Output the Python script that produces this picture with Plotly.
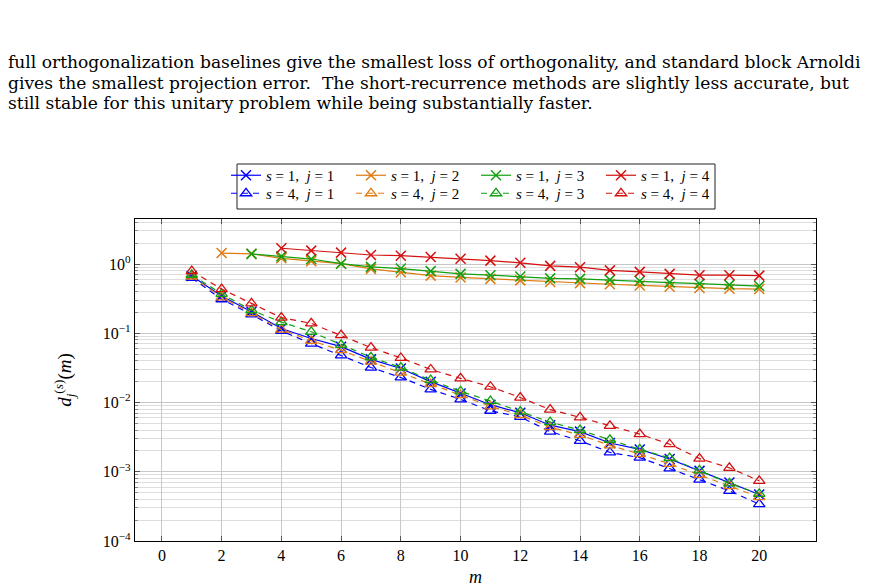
import plotly.graph_objects as go

m_all = list(range(1, 21))

# s = 1 series
s1_j1 = [0.67, 0.345, 0.205, 0.117, 0.084, 0.064, 0.042, 0.031, 0.020, 0.0135,
         0.0093, 0.0071, 0.0047, 0.0038, 0.0026, 0.0021, 0.00153, 0.00103, 0.00070, 0.00047]
m_j2 = list(range(2, 21))
s1_j2 = [1.44, 1.40, 1.21, 1.10, 1.01, 0.85, 0.76, 0.68, 0.64, 0.61,
         0.58, 0.55, 0.53, 0.51, 0.49, 0.47, 0.45, 0.44, 0.435]
m_j3 = list(range(3, 21))
s1_j3 = [1.40, 1.29, 1.18, 1.01, 0.91, 0.86, 0.79, 0.72, 0.69, 0.66,
         0.62, 0.61, 0.59, 0.57, 0.54, 0.52, 0.50, 0.48]
m_j4 = list(range(4, 21))
s1_j4 = [1.69, 1.56, 1.46, 1.35, 1.32, 1.26, 1.19, 1.12, 1.04, 0.94,
         0.90, 0.81, 0.77, 0.72, 0.69, 0.69, 0.68]

# s = 4 series
s4_j1 = [0.63, 0.31, 0.187, 0.108, 0.071, 0.048, 0.032, 0.023, 0.0155, 0.0111,
         0.0076, 0.0062, 0.0038, 0.0028, 0.0019, 0.0016, 0.00112, 0.00077, 0.00053, 0.00034]
s4_j2 = [0.66, 0.33, 0.195, 0.113, 0.078, 0.057, 0.039, 0.027, 0.0185, 0.0128,
         0.0088, 0.0066, 0.0044, 0.0034, 0.0024, 0.0018, 0.0013, 0.0009, 0.00062, 0.00043]
s4_j3 = [0.70, 0.37, 0.215, 0.145, 0.105, 0.068, 0.045, 0.032, 0.021, 0.0145,
         0.0105, 0.0074, 0.0052, 0.0040, 0.0029, 0.0021, 0.00158, 0.00105, 0.00068, 0.00048]
s4_j4 = [0.79, 0.435, 0.27, 0.168, 0.139, 0.094, 0.062, 0.044, 0.030, 0.0223,
         0.0169, 0.0118, 0.0079, 0.0061, 0.0046, 0.0035, 0.0025, 0.00155, 0.00114, 0.00074]

x_ticks = list(range(0, 21, 2))
y_tick_vals = [1e-4, 1e-3, 1e-2, 1e-1, 1e0]
y_tick_text = ["10<sup>\u22124</sup>", "10<sup>\u22123</sup>", "10<sup>\u22122</sup>",
               "10<sup>\u22121</sup>", "10<sup>0</sup>"]

paragraph = [
    "full orthogonalization baselines give the smallest loss of orthogonality, and standard block Arnoldi",
    "gives the smallest projection error.  The short-recurrence methods are slightly less accurate, but",
    "still stable for this unitary problem while being substantially faster.",
]

BLUE = "#0000ff"
ORANGE = "#e07a10"
GREEN = "#10a010"
RED = "#d41010"

FONT = "Liberation Serif"

fig = go.Figure()

def lab(s, j):
    return f"<i>s</i> = {s},  <i>j</i> = {j}"

s1 = [(m_all, s1_j1, BLUE, 1), (m_j2, s1_j2, ORANGE, 2), (m_j3, s1_j3, GREEN, 3), (m_j4, s1_j4, RED, 4)]
s4 = [(m_all, s4_j1, BLUE, 1), (m_all, s4_j2, ORANGE, 2), (m_all, s4_j3, GREEN, 3), (m_all, s4_j4, RED, 4)]

for xs, ys, c, j in s1:
    fig.add_trace(go.Scatter(x=xs, y=ys, mode="lines+markers", name=lab(1, j), legend="legend",
                             line=dict(color=c, width=1.2),
                             marker=dict(symbol="x-thin", size=10, line=dict(color=c, width=1.5))))
for xs, ys, c, j in s4:
    fig.add_trace(go.Scatter(x=xs, y=ys, mode="lines+markers", name=lab(4, j), legend="legend2",
                             line=dict(color=c, width=1.2, dash="6px,5px"),
                             marker=dict(symbol="triangle-up-open", size=10, color=c,
                                         line=dict(color=c, width=1.3))))

for i, line in enumerate(paragraph):
    fig.add_annotation(text=line, xref="paper", yref="paper", x=(6 - 135) / 681, y=1.0,
                       xanchor="left", yanchor="middle", showarrow=False,
                       yshift=(219 - 62 - 20.5 * i),
                       font=dict(family="DejaVu Serif", size=17.1, color="black"))

# legend frame
fig.add_shape(type="rect", xref="paper", yref="paper",
              x0=(237 - 135) / 681, x1=(715 - 135) / 681,
              y0=(541 - 209) / 322, y1=(541 - 164) / 322,
              line=dict(color="#222", width=1), fillcolor="white", layer="below")

leg_common = dict(orientation="h", xanchor="center", yanchor="middle",
                  bgcolor="rgba(0,0,0,0)", borderwidth=0, font=dict(family=FONT, size=15),
                  itemwidth=30, tracegroupgap=0, entrywidth=80, entrywidthmode="pixels")

fig.update_layout(
    width=869, height=587,
    margin=dict(l=135, r=53, t=219, b=46),
    paper_bgcolor="white", plot_bgcolor="white",
    font=dict(family=FONT, size=15, color="black"),
    showlegend=True,
    legend=dict(x=(476 - 135) / 681, y=(541 - 175.5) / 322, **leg_common),
    legend2=dict(x=(476 - 135) / 681, y=(541 - 193.5) / 322, **leg_common),
)

fig.update_xaxes(range=[-0.9, 21.9], tickvals=x_ticks, ticks="inside", ticklen=5,
                 tickcolor="#555", showline=True, linecolor="black", linewidth=1.2,
                 mirror="ticks", showgrid=True, gridcolor="#c8c8c8", gridwidth=1,
                 zeroline=False, tickfont=dict(size=16), automargin=False,
                 title=dict(text="<i>m</i>", font=dict(size=18), standoff=10))
fig.update_yaxes(type="log", range=[-4, 0.65], tickvals=y_tick_vals, ticktext=y_tick_text,
                 ticks="inside", ticklen=5, tickcolor="#555", showline=True, linecolor="black",
                 linewidth=1.2, mirror="ticks", showgrid=True, gridcolor="#c8c8c8",
                 zeroline=False, tickfont=dict(size=16), automargin=False,
                 minor=dict(dtick="D1", showgrid=True, gridcolor="#dddddd", ticks="inside",
                            ticklen=3, tickcolor="#888"),
                 title=dict(text="<i>d</i><sub><i>j</i></sub><sup>(<i>s</i>)</sup>(<i>m</i>)",
                            font=dict(size=19), standoff=26))

fig.write_html("out.html")
